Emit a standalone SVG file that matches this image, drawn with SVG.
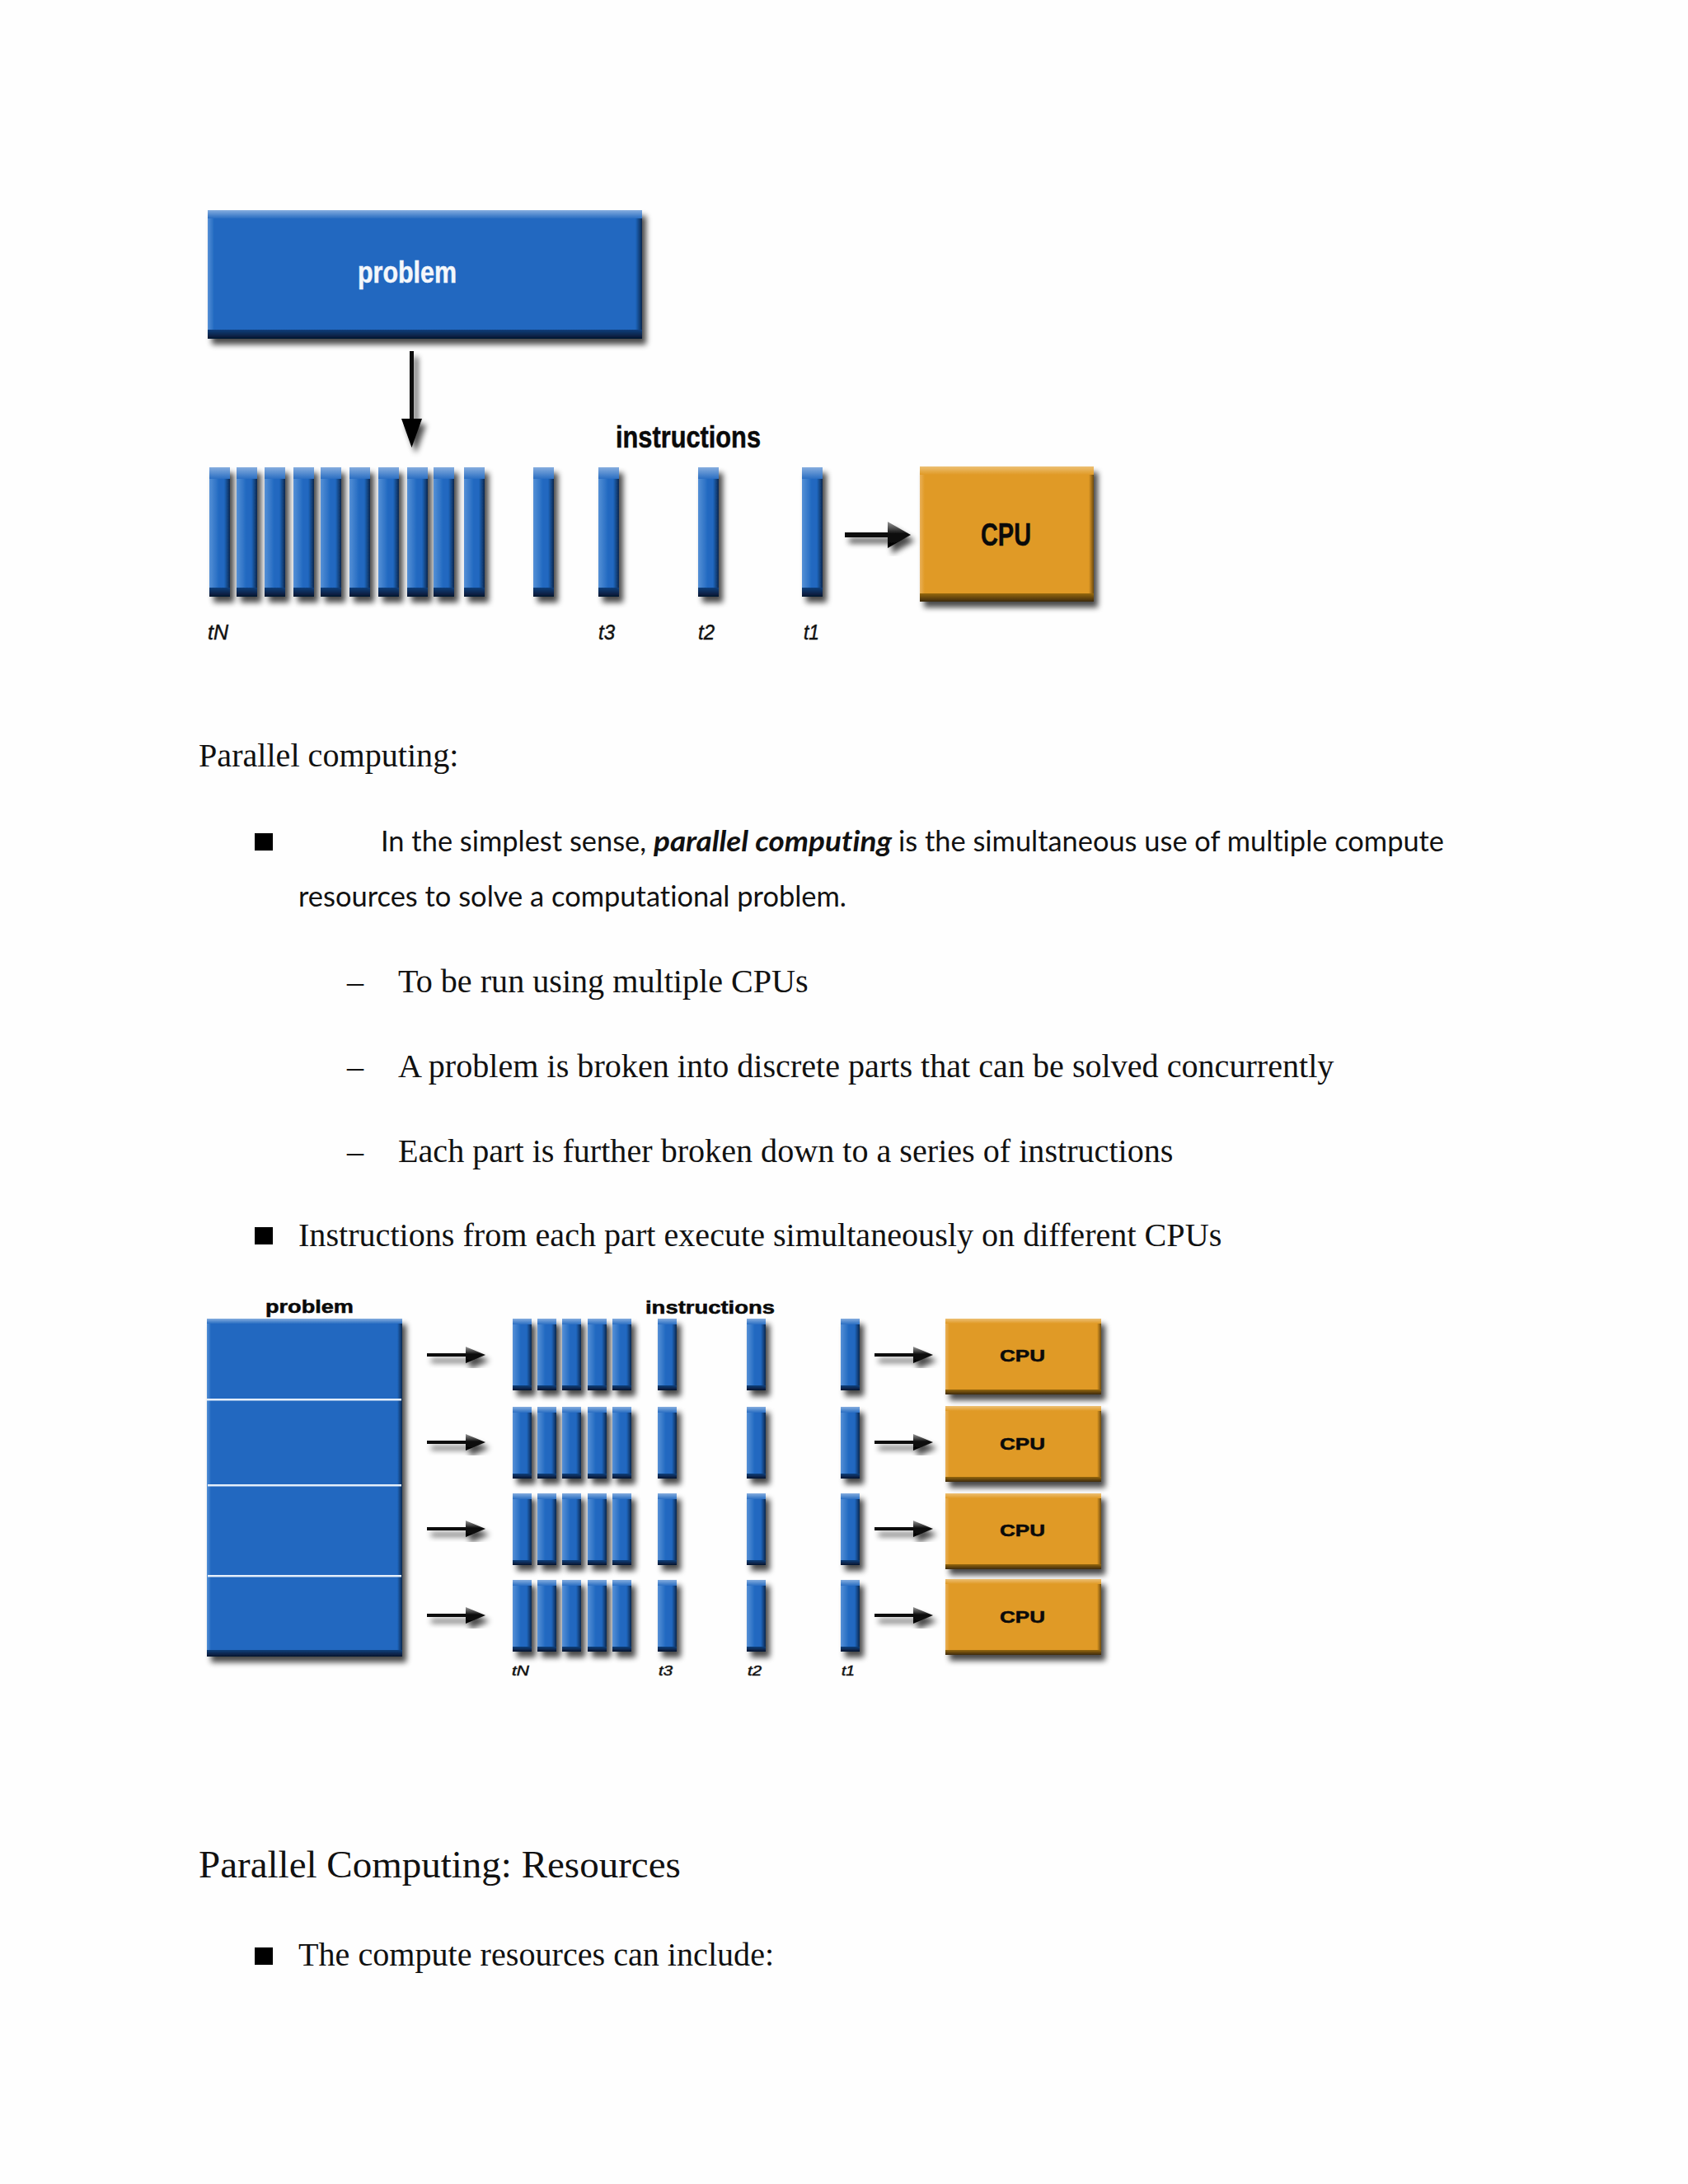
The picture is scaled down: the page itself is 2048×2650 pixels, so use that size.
<svg xmlns="http://www.w3.org/2000/svg" xmlns:xlink="http://www.w3.org/1999/xlink" width="2048" height="2650" viewBox="0 0 2048 2650">
<style>
.s{font-family:"Liberation Serif","Times New Roman",serif;fill:#111}
.c{font-family:Lato,"Liberation Sans",sans-serif;font-size:35px;fill:#111;font-variant-ligatures:none}
.l{font-family:"Liberation Sans",Arial,sans-serif;font-weight:bold;fill:#0a0a0a;stroke:#0a0a0a;stroke-width:0.5px}
.i{font-family:"Liberation Sans",Arial,sans-serif;font-style:italic;fill:#111;stroke:#111;stroke-width:0.5px}
.b{font-size:40.13px}
</style>
<defs>
<linearGradient id="bl" x1="0" x2="1" y1="0" y2="0"><stop offset="0" stop-color="#5590d6"/><stop offset="1" stop-color="#2068c0"/></linearGradient>
<linearGradient id="br" x1="0" x2="1" y1="0" y2="0"><stop offset="0" stop-color="#2068c0"/><stop offset="1" stop-color="#0a2850"/></linearGradient>
<linearGradient id="bt" x1="0" x2="0" y1="0" y2="1"><stop offset="0" stop-color="#85addf"/><stop offset="1" stop-color="#2a6ec2"/></linearGradient>
<linearGradient id="bd" x1="0" x2="0" y1="0" y2="1"><stop offset="0" stop-color="#123f7c"/><stop offset="1" stop-color="#04152e"/></linearGradient>
<linearGradient id="ot" x1="0" x2="0" y1="0" y2="1"><stop offset="0" stop-color="#edc074"/><stop offset="1" stop-color="#e09a26"/></linearGradient>
<linearGradient id="ol" x1="0" x2="1" y1="0" y2="0"><stop offset="0" stop-color="#e9b058"/><stop offset="1" stop-color="#e09a26"/></linearGradient>
<linearGradient id="or" x1="0" x2="1" y1="0" y2="0"><stop offset="0" stop-color="#e09a26"/><stop offset="1" stop-color="#6f4b0e"/></linearGradient>
<linearGradient id="od" x1="0" x2="0" y1="0" y2="1"><stop offset="0" stop-color="#96680f"/><stop offset="1" stop-color="#3d2a08"/></linearGradient>
<linearGradient id="ah" x1="0" x2="0" y1="0" y2="1"><stop offset="0" stop-color="#999"/><stop offset="0.45" stop-color="#111"/><stop offset="1" stop-color="#000"/></linearGradient>
<filter id="sh" x="-40%" y="-20%" width="190%" height="150%"><feGaussianBlur in="SourceAlpha" stdDeviation="3.5"/><feOffset dx="5" dy="7"/><feComponentTransfer><feFuncA type="linear" slope="0.72"/></feComponentTransfer><feMerge><feMergeNode/><feMergeNode in="SourceGraphic"/></feMerge></filter>
<g id="bar1" filter="url(#sh)"><rect width="25" height="157" fill="#2068c0"/><rect width="12" height="157" fill="url(#bl)"/><rect x="18" width="7" height="157" fill="url(#br)"/><rect width="25" height="14" fill="url(#bt)"/><rect y="146" width="25" height="11" fill="url(#bd)"/></g>
<g id="bar2" filter="url(#sh)"><rect width="23" height="87" fill="#2068c0"/><rect width="10" height="87" fill="url(#bl)"/><rect x="17" width="6" height="87" fill="url(#br)"/><rect width="23" height="7" fill="url(#bt)"/><rect y="81" width="23" height="6" fill="url(#bd)"/></g>
<g id="cpu2" filter="url(#sh)"><rect width="189" height="92" fill="#e09a26"/><rect width="5" height="92" fill="url(#ol)"/><rect x="184" width="5" height="92" fill="url(#or)"/><rect width="189" height="6" fill="url(#ot)"/><rect y="86" width="189" height="6" fill="url(#od)"/></g>
<g id="arr2" filter="url(#sh)"><rect y="-2" width="50" height="4" fill="#0a0a0a"/><polygon points="47,-10 71,0 47,10" fill="url(#ah)"/></g>
</defs>
<rect width="2048" height="2650" fill="#fefefe"/>

<g id="figure-1-problem">
<g filter="url(#sh)"><rect x="252" y="255" width="527" height="156" fill="#2068c0"/><rect x="252" y="255" width="8" height="156" fill="url(#bl)"/><rect x="771" y="255" width="8" height="156" fill="url(#br)"/><rect x="252" y="255" width="527" height="10" fill="url(#bt)"/><rect x="252" y="400" width="527" height="11" fill="url(#bd)"/></g>
<text x="434" y="343" class="l" style="fill:#f4f7fb;stroke:#f4f7fb" font-size="36" textLength="120" lengthAdjust="spacingAndGlyphs">problem</text>
</g>
<g id="figure-1-instructions-label"><text x="747" y="543" class="l" font-size="36" textLength="176" lengthAdjust="spacingAndGlyphs">instructions</text></g>
<g id="figure-1-bars">
<use href="#bar1" x="254" y="567"/><use href="#bar1" x="287" y="567"/><use href="#bar1" x="321" y="567"/><use href="#bar1" x="356" y="567"/><use href="#bar1" x="389" y="567"/><use href="#bar1" x="424" y="567"/><use href="#bar1" x="459" y="567"/><use href="#bar1" x="494" y="567"/><use href="#bar1" x="526" y="567"/><use href="#bar1" x="563" y="567"/><use href="#bar1" x="647" y="567"/><use href="#bar1" x="726" y="567"/><use href="#bar1" x="847" y="567"/><use href="#bar1" x="973" y="567"/>
</g>
<g id="figure-1-time-labels">
<text x="252" y="776" class="i" font-size="26" textLength="25" lengthAdjust="spacingAndGlyphs">tN</text>
<text x="726" y="776" class="i" font-size="26" textLength="20" lengthAdjust="spacingAndGlyphs">t3</text>
<text x="847" y="776" class="i" font-size="26" textLength="20" lengthAdjust="spacingAndGlyphs">t2</text>
<text x="975" y="776" class="i" font-size="26" textLength="19" lengthAdjust="spacingAndGlyphs">t1</text>
</g>
<g id="figure-1-cpu">
<g filter="url(#sh)"><rect x="1116" y="566" width="211" height="164" fill="#e09a26"/><rect x="1116" y="566" width="6" height="164" fill="url(#ol)"/><rect x="1321" y="566" width="6" height="164" fill="url(#or)"/><rect x="1116" y="566" width="211" height="10" fill="url(#ot)"/><rect x="1116" y="720" width="211" height="10" fill="url(#od)"/></g>
<text x="1190" y="662" class="l" font-size="38" textLength="61" lengthAdjust="spacingAndGlyphs">CPU</text>
</g>

<g id="text-parallel">
<text x="241" y="930" class="s b">Parallel computing:</text>
<rect x="309" y="1011" width="22" height="21" fill="#000"/>
<text x="462" y="1033" class="c" textLength="322" lengthAdjust="spacingAndGlyphs">In the simplest sense,</text>
<text x="793" y="1033" class="c" font-weight="bold" font-style="italic" textLength="289" lengthAdjust="spacingAndGlyphs">parallel computing</text>
<text x="1090" y="1033" class="c" textLength="662" lengthAdjust="spacingAndGlyphs">is the simultaneous use of multiple compute</text>
<text x="362" y="1100" class="c" textLength="665" lengthAdjust="spacingAndGlyphs">resources to solve a computational problem.</text>
<text x="421" y="1203.500" class="s b">–</text><text x="483" y="1203.500" class="s b">To be run using multiple CPUs</text>
<text x="421" y="1306.500" class="s b">–</text><text x="483" y="1306.500" class="s b">A problem is broken into discrete parts that can be solved concurrently</text>
<text x="421" y="1409.500" class="s b">–</text><text x="483" y="1409.500" class="s b">Each part is further broken down to a series of instructions</text>
<rect x="309" y="1489" width="22" height="21" fill="#000"/>
<text x="362" y="1511.500" class="s b">Instructions from each part execute simultaneously on different CPUs</text>
</g>

<g id="figure-2-problem">
<text x="322" y="1593" class="l" font-size="22" textLength="107" lengthAdjust="spacingAndGlyphs">problem</text>
<g filter="url(#sh)"><rect x="251" y="1600" width="237" height="410" fill="#2068c0"/><rect x="251" y="1600" width="5" height="410" fill="url(#bl)"/><rect x="482" y="1600" width="6" height="410" fill="url(#br)"/><rect x="251" y="1600" width="237" height="6" fill="url(#bt)"/><rect x="251" y="2002" width="237" height="8" fill="url(#bd)"/></g>
<rect x="251" y="1697" width="236" height="2.500" fill="#e4eefa"/><rect x="252" y="1801" width="235" height="2.500" fill="#e4eefa"/><rect x="252" y="1911" width="235" height="2.500" fill="#e4eefa"/>
</g>
<g id="figure-2-instructions-label"><text x="783" y="1594" class="l" font-size="22" textLength="157" lengthAdjust="spacingAndGlyphs">instructions</text></g>
<g id="figure-2-row-1">
<use href="#bar2" x="622" y="1600"/><use href="#bar2" x="652" y="1600"/><use href="#bar2" x="682" y="1600"/><use href="#bar2" x="713" y="1600"/><use href="#bar2" x="743" y="1600"/><use href="#bar2" x="798" y="1600"/><use href="#bar2" x="906" y="1600"/><use href="#bar2" x="1020" y="1600"/>
</g>
<g id="figure-2-row-2">
<use href="#bar2" x="622" y="1707"/><use href="#bar2" x="652" y="1707"/><use href="#bar2" x="682" y="1707"/><use href="#bar2" x="713" y="1707"/><use href="#bar2" x="743" y="1707"/><use href="#bar2" x="798" y="1707"/><use href="#bar2" x="906" y="1707"/><use href="#bar2" x="1020" y="1707"/>
</g>
<g id="figure-2-row-3">
<use href="#bar2" x="622" y="1812"/><use href="#bar2" x="652" y="1812"/><use href="#bar2" x="682" y="1812"/><use href="#bar2" x="713" y="1812"/><use href="#bar2" x="743" y="1812"/><use href="#bar2" x="798" y="1812"/><use href="#bar2" x="906" y="1812"/><use href="#bar2" x="1020" y="1812"/>
</g>
<g id="figure-2-row-4">
<use href="#bar2" x="622" y="1917"/><use href="#bar2" x="652" y="1917"/><use href="#bar2" x="682" y="1917"/><use href="#bar2" x="713" y="1917"/><use href="#bar2" x="743" y="1917"/><use href="#bar2" x="798" y="1917"/><use href="#bar2" x="906" y="1917"/><use href="#bar2" x="1020" y="1917"/>
</g>
<g id="figure-2-time-labels">
<text x="621" y="2033" class="i" font-size="17" textLength="21" lengthAdjust="spacingAndGlyphs">tN</text>
<text x="799" y="2033" class="i" font-size="17" textLength="17" lengthAdjust="spacingAndGlyphs">t3</text>
<text x="907" y="2033" class="i" font-size="17" textLength="17" lengthAdjust="spacingAndGlyphs">t2</text>
<text x="1021" y="2033" class="i" font-size="17" textLength="16" lengthAdjust="spacingAndGlyphs">t1</text>
</g>
<g id="cpu-a"><use href="#cpu2" x="1147" y="1600"/><text x="1213" y="1652" class="l" font-size="20" textLength="55" lengthAdjust="spacingAndGlyphs">CPU</text></g>
<g id="cpu-b"><use href="#cpu2" x="1147" y="1706"/><text x="1213" y="1759" class="l" font-size="20" textLength="55" lengthAdjust="spacingAndGlyphs">CPU</text></g>
<g id="cpu-c"><use href="#cpu2" x="1147" y="1812"/><text x="1213" y="1864" class="l" font-size="20" textLength="55" lengthAdjust="spacingAndGlyphs">CPU</text></g>
<g id="cpu-d"><use href="#cpu2" x="1147" y="1916"/><text x="1213" y="1969" class="l" font-size="20" textLength="55" lengthAdjust="spacingAndGlyphs">CPU</text></g>

<g id="connectors">
<g filter="url(#sh)"><rect x="497" y="426" width="5" height="90" fill="#0a0a0a"/><polygon points="487,508 512,508 499.500,543" fill="#000"/></g>
<g filter="url(#sh)"><rect x="1025" y="646" width="54" height="6" fill="#0a0a0a"/><polygon points="1077,633 1105,649 1077,665" fill="url(#ah)"/></g>
<use href="#arr2" x="518" y="1644"/><use href="#arr2" x="518" y="1750"/><use href="#arr2" x="518" y="1855"/><use href="#arr2" x="518" y="1960"/>
<use href="#arr2" x="1061" y="1644"/><use href="#arr2" x="1061" y="1750"/><use href="#arr2" x="1061" y="1855"/><use href="#arr2" x="1061" y="1960"/>
</g>

<g id="text-resources">
<text x="241" y="2278" style="font-size:47px" class="s">Parallel Computing: Resources</text>
<rect x="309" y="2363" width="22" height="21" fill="#000"/>
<text x="362" y="2384.500" class="s b">The compute resources can include:</text>
</g>
</svg>
